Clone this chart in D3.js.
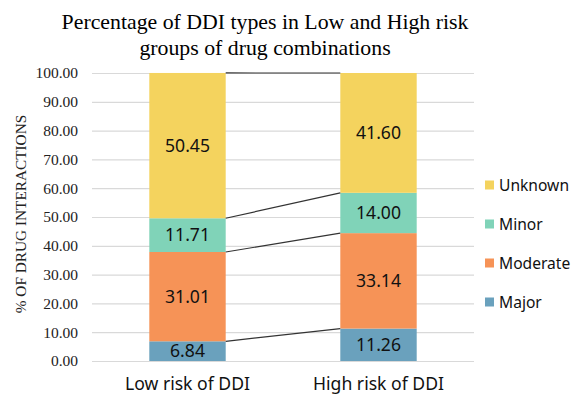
<!DOCTYPE html>
<html>
<head>
<meta charset="utf-8">
<script src="https://cdn.jsdelivr.net/npm/d3@7"></script>
<style>
  body { margin: 0; background: #fff; }
</style>
</head>
<body>
<svg width="575" height="396"></svg>
<script>
// data
const groups = ['Low risk of DDI', 'High risk of DDI'];
const types = ['Major', 'Moderate', 'Minor', 'Unknown'];
const major = [6.84, 11.26];
const moderate = [31.01, 33.14];
const minor = [11.71, 14.00];
const unknown = [50.45, 41.60];
const yTicks = [0, 10, 20, 30, 40, 50, 60, 70, 80, 90, 100];
const colors = ['#6aa1bd', '#f69357', '#80d3b8', '#f4d35e'];

const rows = groups.map((g, i) => ({
  group: g, Major: major[i], Moderate: moderate[i], Minor: minor[i], Unknown: unknown[i]
}));
const stacked = d3.stack().keys(types)(rows);

const svg = d3.select('svg');
const x = d3.scaleBand().domain(groups).range([92, 474]).paddingInner(0.6).paddingOuter(0.3);
const y = d3.scaleLinear().domain([0, 100]).range([361, 73]);
const color = d3.scaleOrdinal().domain(types).range(colors);

// title
svg.append('text')
  .attr('x', 265).attr('y', 29)
  .attr('text-anchor', 'middle')
  .style('font-family', 'Liberation Serif').style('font-size', '21.8px')
  .text('Percentage of DDI types in Low and High risk');
svg.append('text')
  .attr('x', 265).attr('y', 55)
  .attr('text-anchor', 'middle')
  .style('font-family', 'Liberation Serif').style('font-size', '21.8px')
  .text('groups of drug combinations');

// grid + y axis
const yAxis = svg.append('g')
  .attr('transform', 'translate(92,0)')
  .call(d3.axisLeft(y).tickValues(yTicks).tickSize(-382).tickPadding(14).tickFormat(d3.format('.2f')));
yAxis.select('.domain').remove();
yAxis.selectAll('line').attr('stroke', '#d9d9d9').attr('stroke-width', 1.2);
yAxis.selectAll('text')
  .style('font-family', 'Liberation Serif').style('font-size', '15.5px').attr('fill', '#222');

svg.append('text')
  .attr('transform', 'translate(26,214) rotate(-90)')
  .attr('text-anchor', 'middle')
  .style('font-family', 'Liberation Serif').style('font-size', '15.3px')
  .attr('fill', '#222')
  .text('% OF DRUG INTERACTIONS');

// bars
const layers = svg.append('g').selectAll('g')
  .data(stacked)
  .join('g')
  .attr('fill', d => color(d.key));
layers.selectAll('rect')
  .data(d => d)
  .join('rect')
  .attr('x', d => x(d.data.group))
  .attr('y', d => y(d[1]))
  .attr('width', x.bandwidth())
  .attr('height', d => y(d[0]) - y(d[1]));

// series lines between bars
svg.append('g').selectAll('line')
  .data(stacked)
  .join('line')
  .attr('x1', x(groups[0]) + x.bandwidth())
  .attr('x2', x(groups[1]))
  .attr('y1', d => y(d[0][1]))
  .attr('y2', d => y(d[1][1]))
  .attr('stroke', '#333')
  .attr('stroke-width', 1.2);

// data labels
layers.selectAll('text')
  .data(d => d)
  .join('text')
  .attr('x', d => x(d.data.group) + x.bandwidth() / 2)
  .attr('y', d => (y(d[0]) + y(d[1])) / 2)
  .attr('dy', '0.36em')
  .attr('text-anchor', 'middle')
  .attr('fill', '#111')
  .style('font-family', 'Noto Sans').style('font-size', '17.6px')
  .text(d => d3.format('.2f')(d[1] - d[0]));

// x labels
svg.append('g').selectAll('text')
  .data(groups)
  .join('text')
  .attr('x', d => x(d) + x.bandwidth() / 2)
  .attr('y', 390)
  .attr('text-anchor', 'middle')
  .attr('fill', '#111')
  .style('font-family', 'Noto Sans').style('font-size', '17.6px')
  .text(d => d);

// legend
const legendY = d3.scalePoint().domain(types.slice().reverse()).range([185, 302]);
const legend = svg.append('g').selectAll('g')
  .data(types)
  .join('g')
  .attr('transform', d => `translate(485,${legendY(d)})`);
legend.append('rect')
  .attr('x', 0).attr('y', -4.5).attr('width', 9).attr('height', 9)
  .attr('fill', d => color(d));
legend.append('text')
  .attr('x', 14).attr('dy', '0.36em')
  .attr('fill', '#111')
  .style('font-family', 'Noto Sans').style('font-size', '15.6px')
  .text(d => d);
</script>
</body>
</html>
